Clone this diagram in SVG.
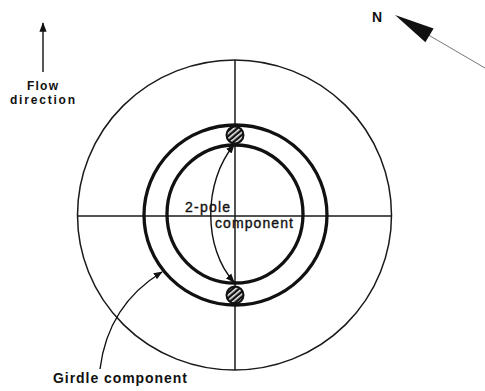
<svg xmlns="http://www.w3.org/2000/svg" width="485" height="391" viewBox="0 0 485 391">
<style>
.t{font-family:"Liberation Sans",Arial,sans-serif;fill:#111}
.b{font-weight:bold}
.m{stroke:#111;stroke-width:0.35}
.thin{fill:none;stroke:#1a1a1a;stroke-width:1.5}
.thick{fill:none;stroke:#111;stroke-width:3.3}
.arr{fill:none;stroke:#111;stroke-width:1.4}
</style>
<defs>
<marker id="ah" viewBox="0 0 10 10" refX="9" refY="5" markerWidth="9" markerHeight="9" markerUnits="userSpaceOnUse" orient="auto-start-reverse">
<path d="M0,1 L10,5 L0,9 Z" fill="#111"/>
</marker>
<marker id="ah2" viewBox="0 0 12 10" refX="11" refY="5" markerWidth="12" markerHeight="8" markerUnits="userSpaceOnUse" orient="auto">
<path d="M0,0.5 L12,5 L0,9.5 Z" fill="#111"/>
</marker>
<pattern id="hatch" patternUnits="userSpaceOnUse" width="4" height="4" patternTransform="rotate(-40)">
<rect width="4" height="4" fill="#111"/>
<rect width="4" height="1.6" fill="#eee"/>
</pattern>
</defs>
<rect width="485" height="391" fill="#fff"/>
<g id="net">
<ellipse cx="234.5" cy="215" rx="157" ry="155" class="thin"/>
<line x1="235" y1="60" x2="235" y2="370" class="thin" stroke-width="1.1"/>
<line x1="77" y1="216" x2="392" y2="216" class="thin" stroke-width="1.1"/>
</g>
<g id="girdle-outer"><ellipse cx="235.5" cy="215" rx="91.5" ry="90" class="thick"/></g>
<g id="girdle-inner"><ellipse cx="235" cy="214" rx="68" ry="69" class="thick"/></g>
<g id="pole-top"><circle cx="235" cy="135" r="8.5" fill="url(#hatch)" stroke="#111" stroke-width="2"/></g>
<g id="pole-bottom"><circle cx="235" cy="295" r="8.5" fill="url(#hatch)" stroke="#111" stroke-width="2"/></g>
<g id="connectors">
<path d="M234,145 C203,182 203,248 234,282" class="arr" marker-start="url(#ah)" marker-end="url(#ah)"/>
<path d="M100,369 Q108,305 162,272" class="arr" marker-end="url(#ah)"/>
<line x1="43" y1="72" x2="43" y2="23" class="arr" stroke-width="1.6" marker-end="url(#ah2)"/>
<line x1="485" y1="68" x2="425" y2="33" stroke="#777" stroke-width="1"/>
<path d="M395,15 L425.4,42.2 L433.6,28.4 Z" fill="#111"/>
</g>
<g id="labels">
<text class="t b" x="27" y="90" font-size="12" textLength="31" lengthAdjust="spacing">Flow</text>
<text class="t b" x="10" y="104" font-size="12" textLength="65" lengthAdjust="spacing">direction</text>
<text class="t b" x="372" y="22" font-size="14">N</text>
<text class="t m" x="185" y="212" font-size="14" textLength="45" lengthAdjust="spacing">2-pole</text>
<text class="t m" x="215" y="228" font-size="14" textLength="78" lengthAdjust="spacing">component</text>
<text class="t b" x="53" y="383" font-size="14" textLength="134" lengthAdjust="spacing">Girdle component</text>
</g>
</svg>
